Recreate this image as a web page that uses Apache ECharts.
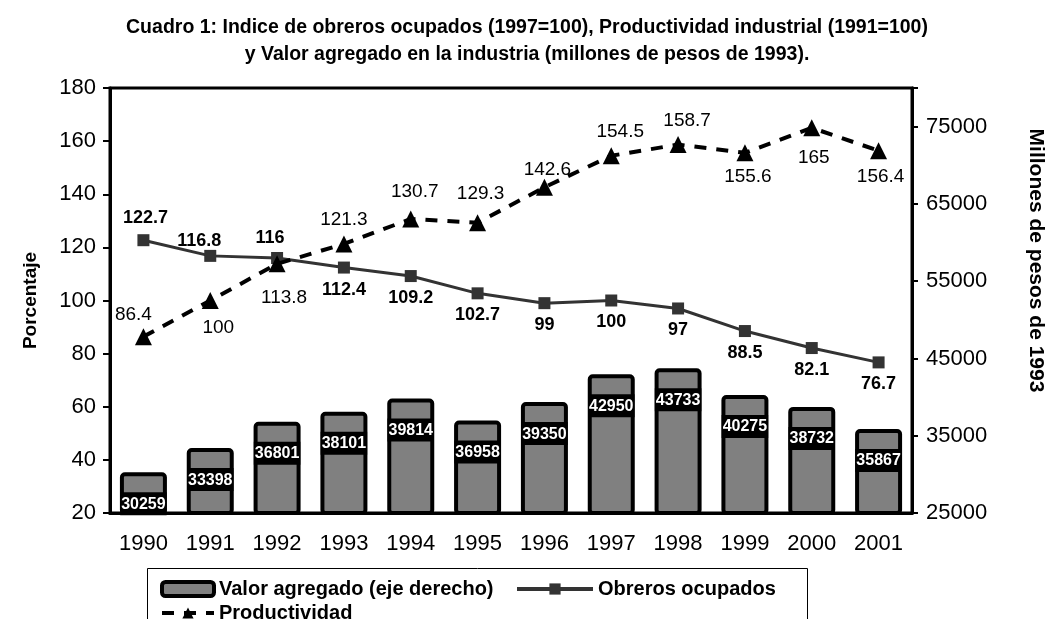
<!DOCTYPE html>
<html>
<head>
<meta charset="utf-8">
<script src="https://cdn.jsdelivr.net/npm/echarts@6/dist/echarts.min.js"></script>
<style>
html,body{margin:0;padding:0;background:#fff;}
#main{width:1054px;height:619px;}
</style>
</head>
<body>
<div id="main"></div>
<script>
// datos del cuadro 1
var years = ['1990','1991','1992','1993','1994','1995','1996','1997','1998','1999','2000','2001'];
var valorAgregado = [30259, 33398, 36801, 38101, 39814, 36958, 39350, 42950, 43733, 40275, 38732, 35867];
var obreros = [122.7, 116.8, 116, 112.4, 109.2, 102.7, 99, 100, 97, 88.5, 82.1, 76.7];
var productividad = [86.4, 100, 113.8, 121.3, 130.7, 129.3, 142.6, 154.5, 158.7, 155.6, 165, 156.4];
// ejes
var leftMin = 20, leftMax = 180, leftStep = 20;
var rightMin = 25000, rightMax = 80000, rightStep = 10000;

var FONT = 'Arial, "Liberation Sans", sans-serif';

// donde van las etiquetas (arriba / abajo)
var obrerosPos = ['top','top','top','bottom','bottom','bottom','bottom','bottom','bottom','bottom','bottom','bottom'];
var obrerosShift = [[2,0],[-11,7],[-7,2],[0,0],[0,0],[0,0],[0,0],[0,0],[0,0],[0,0],[0,0],[0,0]];
var prodPos = ['top','bottom','bottom','top','top','top','top','top','top','bottom','bottom','bottom'];
var prodShift = [[-10,2],[8,3],[7,10],[0,0],[4,-3],[3,-5],[3,6],[9,0],[9,0],[3,0],[2,6],[2,2]];

var myChart = echarts.init(document.getElementById('main'));

var legendText = {fontFamily: FONT, fontSize: 20, fontWeight: 'bold', color: '#000'};

var option = {
  animation: false,
  backgroundColor: '#fff',
  title: {
    text: 'Cuadro 1: Indice de obreros ocupados (1997=100), Productividad industrial (1991=100)\ny Valor agregado en la industria (millones de pesos de 1993).',
    left: 'center',
    top: 9,
    textStyle: {
      fontFamily: FONT,
      fontSize: 19.5,
      fontWeight: 'bold',
      color: '#000',
      lineHeight: 27
    }
  },
  grid: {
    left: 110,
    right: 142,
    top: 88,
    bottom: 106,
    show: true,
    borderColor: '#000',
    borderWidth: 3,
    outerBoundsMode: 'none'
  },
  legend: [
    {
      left: 155,
      top: 574,
      itemWidth: 52,
      itemHeight: 14,
      itemGap: 6,
      itemStyle: {borderWidth: 4},
      textStyle: legendText,
      data: ['Valor agregado (eje derecho)']
    },
    {
      left: 510,
      top: 574,
      itemWidth: 76,
      itemHeight: 14,
      lineStyle: {width: 4},
      textStyle: legendText,
      data: ['Obreros ocupados']
    },
    {
      left: 155,
      top: 598,
      itemWidth: 52,
      itemHeight: 14,
      lineStyle: {width: 4},
      textStyle: legendText,
      data: ['Productividad']
    }
  ],
  graphic: [
    {
      type: 'rect',
      left: 145,
      top: 566,
      shape: {width: 660, height: 70},
      style: {fill: 'none', stroke: '#000', lineWidth: 1},
      z: -1
    }
  ],
  xAxis: {
    type: 'category',
    data: years,
    boundaryGap: true,
    axisLine: {lineStyle: {color: '#000', width: 3}},
    axisTick: {length: 6, lineStyle: {color: '#000', width: 2}},
    axisLabel: {fontFamily: FONT, fontSize: 22, color: '#000', margin: 20},
    splitLine: {show: false}
  },
  yAxis: [
    {
      type: 'value',
      min: leftMin,
      max: leftMax,
      interval: leftStep,
      name: 'Porcentaje',
      nameLocation: 'middle',
      nameGap: 70,
      nameTextStyle: {fontFamily: FONT, fontSize: 19, fontWeight: 'bold', color: '#000'},
      axisLine: {show: true, lineStyle: {color: '#000', width: 3}},
      axisTick: {show: true, length: 7, lineStyle: {color: '#000', width: 2}},
      axisLabel: {fontFamily: FONT, fontSize: 22, color: '#000', margin: 14},
      splitLine: {show: false}
    },
    {
      type: 'value',
      position: 'right',
      min: rightMin,
      max: rightMax,
      interval: rightStep,
      name: 'Millones de pesos de 1993',
      nameLocation: 'middle',
      nameRotate: -90,
      nameGap: 113,
      nameTextStyle: {fontFamily: FONT, fontSize: 21, fontWeight: 'bold', color: '#000', padding: [0, 80, 0, 0]},
      axisLine: {show: true, lineStyle: {color: '#000', width: 3}},
      axisTick: {show: true, length: 6, lineStyle: {color: '#000', width: 2}},
      axisLabel: {
        fontFamily: FONT, fontSize: 22, color: '#000', margin: 14,
        formatter: function (v) { return v === rightMax ? '' : v; }
      },
      splitLine: {show: false}
    }
  ],
  series: [
    {
      name: 'Valor agregado (eje derecho)',
      type: 'bar',
      yAxisIndex: 1,
      barWidth: 47,
      itemStyle: {color: '#808080', borderColor: '#000', borderWidth: 4, borderRadius: 3},
      label: {
        show: true,
        position: 'insideTop',
        distance: 20,
        fontFamily: FONT,
        fontSize: 16,
        fontWeight: 'bold',
        color: '#fff',
        backgroundColor: '#000',
        padding: [4, 1, 3, 1]
      },
      data: valorAgregado,
      z: 1
    },
    {
      name: 'Obreros ocupados',
      type: 'line',
      yAxisIndex: 0,
      symbol: 'rect',
      symbolSize: 12,
      lineStyle: {color: '#333', width: 3},
      itemStyle: {color: '#333'},
      label: {
        show: true,
        fontFamily: FONT,
        fontSize: 18,
        fontWeight: 'bold',
        color: '#000',
        distance: 7
      },
      data: obreros.map(function (v, i) {
        return {value: v, label: {position: obrerosPos[i], offset: obrerosShift[i]}};
      }),
      z: 3
    },
    {
      name: 'Productividad',
      type: 'line',
      yAxisIndex: 0,
      symbol: 'triangle',
      symbolSize: 17,
      lineStyle: {color: '#000', width: 4, type: [12, 10]},
      itemStyle: {color: '#000'},
      label: {
        show: true,
        fontFamily: FONT,
        fontSize: 19,
        color: '#000',
        distance: 6
      },
      data: productividad.map(function (v, i) {
        return {value: v, label: {position: prodPos[i], offset: prodShift[i]}};
      }),
      z: 4
    }
  ]
};

myChart.setOption(option);
</script>
</body>
</html>
